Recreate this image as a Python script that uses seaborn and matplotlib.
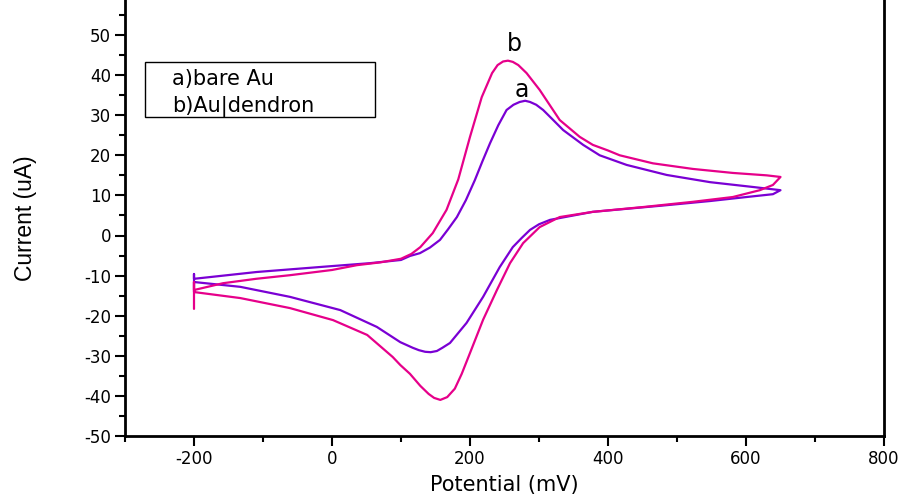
import matplotlib
matplotlib.use("Agg")
import matplotlib.pyplot as plt
from matplotlib.patches import Rectangle
from matplotlib.ticker import MultipleLocator
import seaborn as sns
import pandas as pd

# a) bare Au  -- potential (mV), current (uA); scan starts at -200, goes to 650 and back
pot_a = [-200, -200, -200, -109, -13, 55, 100, 113, 127.5, 142, 156.5, 168, 181, 194, 207, 218, 229, 241, 253,
         263, 272, 280, 287, 296, 306, 320, 335, 364, 388, 427, 485, 548, 610, 650,
         639, 601, 548, 475, 378, 316, 300, 287, 275, 262, 243, 219, 195, 171, 160, 152, 143, 135, 126, 117,
         99, 65, 12, -61, -133, -200]
cur_a = [-14.0, -9.6, -10.8, -9.1, -7.8, -6.9, -6.1, -5.1, -4.4, -3.0, -1.1, 1.5, 4.6, 8.8, 13.8, 18.5, 23.0, 27.5, 31.3,
         32.6, 33.3, 33.6, 33.3, 32.6, 31.3, 28.9, 26.3, 22.6, 20.0, 17.6, 15.1, 13.3, 12.1, 11.3,
         10.3, 9.6, 8.6, 7.4, 5.9, 3.9, 2.8, 1.4, -0.6, -2.9, -7.9, -15.3, -21.8, -26.8, -28.0, -28.8, -29.1, -29.0, -28.6, -28.0,
         -26.6, -22.8, -18.6, -15.3, -12.8, -11.6]

# b) Au|dendron
pot_b = [-200, -200, -200, -158, -110, -61, 0, 36, 70, 100, 115, 128, 146, 166, 183, 200, 217, 232,
         240, 248, 255, 262, 270, 282, 301, 330, 359, 378, 400, 417, 465, 523, 581, 630, 650,
         639, 620, 581, 523, 451, 378, 330, 301, 277, 258, 239, 219, 200, 188, 178, 167, 157, 148, 140,
         128, 113, 99, 88, 51, 1.5, -61, -133, -200]
cur_b = [-18.3, -11.6, -13.6, -11.9, -10.8, -9.9, -8.6, -7.4, -6.7, -5.8, -4.6, -2.9, 0.6, 6.4, 14.0, 24.6, 34.5, 40.5,
         42.5, 43.4, 43.6, 43.3, 42.5, 40.5, 36.3, 28.8, 24.6, 22.6, 21.2, 20.0, 18.0, 16.6, 15.6, 15.0, 14.6,
         12.6, 11.3, 9.6, 8.4, 7.1, 5.9, 4.6, 2.1, -1.9, -6.9, -13.6, -21.0, -29.3, -34.5, -38.2, -40.3, -41.0, -40.5, -39.5,
         -37.5, -34.5, -32.3, -30.3, -24.8, -21.1, -18.1, -15.6, -14.1]

legend_lines = ["a)bare Au", "b)Au|dendron"]

sns.set_style("ticks")
plt.rcParams['font.family'] = ['DejaVu Sans']
plt.rcParams['axes.unicode_minus'] = False
for key in ['text.color', 'axes.labelcolor', 'xtick.color', 'ytick.color']:
    plt.rcParams[key] = 'black'

fig = plt.figure(figsize=(9.05, 4.95), dpi=100)
ax = fig.add_axes([125 / 905, 1 - 436 / 495, (884 - 125) / 905, 436 / 495])

df_a = pd.DataFrame({"pot": pot_a, "cur": cur_a})
df_b = pd.DataFrame({"pot": pot_b, "cur": cur_b})
sns.lineplot(data=df_a, x="pot", y="cur", sort=False, estimator=None, color="#7a00d4", lw=1.6, ax=ax)
sns.lineplot(data=df_b, x="pot", y="cur", sort=False, estimator=None, color="#e6008a", lw=1.6, ax=ax)

ax.set_xlim(-300, 800)
ax.set_ylim(-50, 50 + 35 / 4.01)
ax.xaxis.set_major_locator(MultipleLocator(200))
ax.xaxis.set_minor_locator(MultipleLocator(100))
ax.yaxis.set_minor_locator(MultipleLocator(5))
ax.set_yticks(range(-50, 51, 10))
ax.tick_params(which="major", direction="out", length=7, width=1.5, labelsize=12, color="black", pad=3)
ax.tick_params(which="minor", direction="out", length=4, width=1.5, color="black")

ax.spines['top'].set_visible(False)
for s in ['left', 'bottom', 'right']:
    ax.spines[s].set_linewidth(2)
    ax.spines[s].set_color("black")

ax.set_xlabel("Potential (mV)", fontsize=15, labelpad=5)
ax.set_ylabel("Current (uA)", fontsize=16.5, labelpad=34,
              family=['Liberation Sans Narrow', 'Liberation Sans'])

# legend box
ax.add_patch(Rectangle((-271, 29.6), 333, 13.7, fill=False, edgecolor="black", lw=1.0))
ax.text(-232, 37.5, legend_lines[0], fontsize=15)
ax.text(-232, 31.0, legend_lines[1], fontsize=15)

# peak labels
ax.text(264, 46.0, "b", fontsize=17, ha="center")
ax.text(275, 34.5, "a", fontsize=17, ha="center")

plt.savefig("out.png", dpi=100, facecolor="white")
